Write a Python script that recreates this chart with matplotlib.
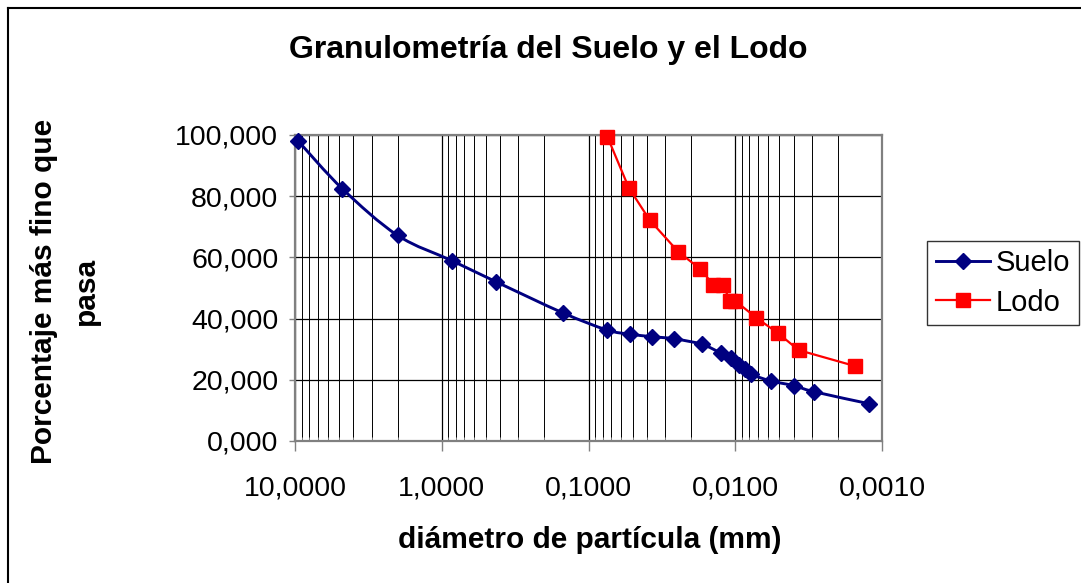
import numpy as np
import matplotlib
matplotlib.use("Agg")
import matplotlib.pyplot as plt
from matplotlib.path import Path
from matplotlib.patches import PathPatch
from matplotlib.lines import Line2D
from matplotlib.ticker import FixedLocator, FuncFormatter

# Grain-size curves: particle diameter (mm) vs. percent passing
suelo_diam = [9.50, 4.75, 2.00, 0.850, 0.425, 0.150, 0.075, 0.052, 0.0369,
              0.026, 0.0169, 0.0125, 0.0107, 0.0094, 0.0086, 0.0078,
              0.0057, 0.0040, 0.0029, 0.00123]
suelo_pct = [98.0, 82.4, 67.2, 58.9, 52.0, 41.9, 36.3, 34.9, 34.1,
             33.4, 31.6, 28.7, 27.0, 24.8, 23.5, 21.8,
             19.6, 18.1, 16.1, 12.2]

lodo_diam = [0.0743, 0.0532, 0.0383, 0.0244, 0.0174, 0.0141, 0.0122,
             0.0108, 0.0100, 0.0072, 0.0051, 0.0037, 0.00153]
lodo_pct = [99.4, 82.8, 72.2, 61.8, 56.3, 51.1, 51.1,
            45.8, 45.8, 40.3, 35.2, 29.7, 24.5]

x_ticks = [10, 1, 0.1, 0.01, 0.001]
y_ticks = [0, 20, 40, 60, 80, 100]

title = "Granulometría del Suelo y el Lodo"
x_label = "diámetro de partícula (mm)"
y_label = "Porcentaje más fino que\npasa"

SUELO_COLOR = "#000080"
LODO_COLOR = "#FF0000"
GRID_GRAY = "#808080"

plt.rcParams["font.family"] = ["Liberation Sans", "DejaVu Sans"]

W, H = 1081, 583
fig = plt.figure(figsize=(W / 100, H / 100), dpi=100)
ax = fig.add_axes([295 / W, 1 - 441 / H, (882 - 295) / W, (441 - 135) / H])

ax.set_xscale("log")
ax.set_xlim(10, 0.001)
ax.set_ylim(0, 100)

# gridlines: every decade and every integer step inside it
minor_pos = [m * 10.0 ** e for e in range(-3, 1) for m in range(2, 10)]
ax.xaxis.set_major_locator(FixedLocator(x_ticks))
ax.xaxis.set_minor_locator(FixedLocator(minor_pos))
ax.yaxis.set_major_locator(FixedLocator(y_ticks))
ax.grid(True, which="major", axis="both", color="black", lw=0.9)
ax.grid(True, which="minor", axis="x", color="black", lw=0.7)
ax.set_axisbelow(True)

ax.xaxis.set_major_formatter(FuncFormatter(lambda v, p: f"{v:.4f}".replace(".", ",")))
ax.xaxis.set_minor_formatter(FuncFormatter(lambda v, p: ""))
ax.yaxis.set_major_formatter(FuncFormatter(lambda v, p: f"{v:.3f}".replace(".", ",")))

ax.tick_params(axis="x", which="major", direction="out", length=7, width=1,
               color=GRID_GRAY, labelsize=20.5, pad=18)
ax.tick_params(axis="x", which="minor", direction="in", length=3, width=0.7,
               color=GRID_GRAY)
ax.tick_params(axis="y", which="major", direction="out", length=4, width=1,
               color=GRID_GRAY, labelsize=20.5, pad=8)

for s in ax.spines.values():
    s.set_color(GRID_GRAY)
    s.set_linewidth(1.6)


def smooth_path(xs, ys):
    """Cardinal-spline (Bezier) path through the points, in log-x space."""
    lx = np.log10(np.asarray(xs, float))
    yy = np.asarray(ys, float)
    n = len(lx)
    verts = [(lx[0], yy[0])]
    codes = [Path.MOVETO]
    for i in range(n - 1):
        i0 = max(i - 1, 0)
        i3 = min(i + 2, n - 1)
        c1 = (lx[i] + (lx[i + 1] - lx[i0]) / 6, yy[i] + (yy[i + 1] - yy[i0]) / 6)
        c2 = (lx[i + 1] - (lx[i3] - lx[i]) / 6, yy[i + 1] - (yy[i3] - yy[i]) / 6)
        verts += [c1, c2, (lx[i + 1], yy[i + 1])]
        codes += [Path.CURVE4] * 3
    verts = [(10 ** vx, vy) for vx, vy in verts]
    return Path(verts, codes)


ax.add_patch(PathPatch(smooth_path(suelo_diam, suelo_pct), facecolor="none",
                       edgecolor=SUELO_COLOR, lw=2.1, zorder=3))
ax.plot(suelo_diam, suelo_pct, ls="none", marker="D", ms=8.5,
        color=SUELO_COLOR, zorder=4, clip_on=False)
ax.plot(lodo_diam, lodo_pct, ls="-", lw=1.6, marker="s", ms=10,
        color=LODO_COLOR, zorder=4, clip_on=False)

fig.text(548 / W, 1 - 50 / H, title, ha="center", va="center",
         fontsize=23, fontweight="bold")
fig.text(590 / W, 1 - 540 / H, x_label, ha="center", va="center",
         fontsize=21.5, fontweight="bold")
fig.text(65 / W, 1 - 291 / H, y_label, ha="center", va="center",
         rotation=90, fontsize=21.5, fontweight="bold", linespacing=1.65,
         multialignment="center")

handles = [
    Line2D([], [], color=SUELO_COLOR, lw=2.1, marker="D", ms=8.5),
    Line2D([], [], color=LODO_COLOR, lw=1.6, marker="s", ms=10),
]
leg = fig.legend(handles, ["Suelo", "Lodo"], loc="center left",
                 bbox_to_anchor=(927 / W, 1 - 283 / H), fontsize=21,
                 frameon=True, fancybox=False, edgecolor="black",
                 handlelength=1.85, handletextpad=0.22, borderpad=0.3,
                 labelspacing=0.38, borderaxespad=0)
leg.get_frame().set_linewidth(1.0)

# chart-area border (top and left edges)
fig.add_artist(Line2D([8 / W, 8 / W], [0, 1 - 8 / H], color="black", lw=1.5,
                      transform=fig.transFigure))
fig.add_artist(Line2D([8 / W, 1], [1 - 8 / H, 1 - 8 / H], color="black", lw=1.5,
                      transform=fig.transFigure))

fig.savefig("out.png", dpi=100)
